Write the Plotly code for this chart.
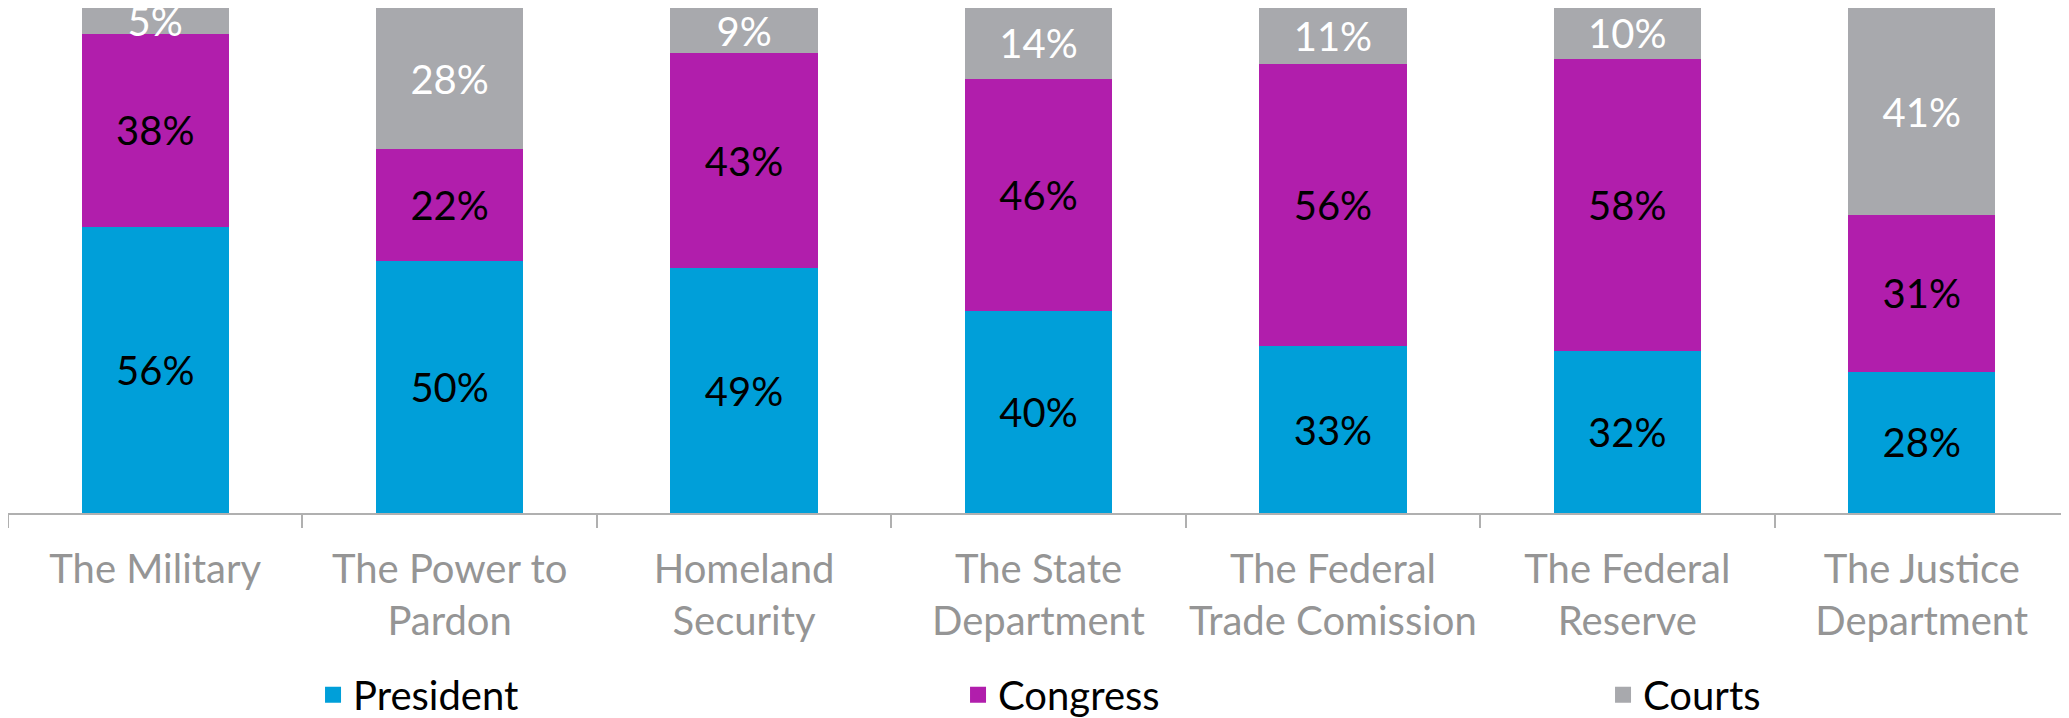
import plotly.graph_objects as go

categories = [
    "The Military",
    "The Power to<br>Pardon",
    "Homeland<br>Security",
    "The State<br>Department",
    "The Federal<br>Trade Comission",
    "The Federal<br>Reserve",
    "The Justice<br>Department",
]
president = [56, 50, 49, 40, 33, 32, 28]
congress = [38, 22, 43, 46, 56, 58, 31]
courts = [5, 28, 9, 14, 11, 10, 41]

series = [
    ("President", president, "#009FD9", "black"),
    ("Congress", congress, "#B11EAC", "black"),
    ("Courts", courts, "#A8A9AD", "white"),
]

FONT = "Lato, 'Open Sans', sans-serif"
FS = 40

fig = go.Figure()
for name, vals, color, tcolor in series:
    fig.add_trace(go.Bar(
        name=name,
        x=categories,
        y=vals,
        marker=dict(color=color, line=dict(width=0)),
        text=[f"{v}%" for v in vals],
        textposition="inside",
        insidetextanchor="middle",
        constraintext="none",
        textangle=0,
        insidetextfont=dict(color=tcolor, size=FS, family=FONT),
        hoverinfo="skip",
        showlegend=False,
        legendgroup=name,
    ))
# legend entries (square swatches)
for name, vals, color, tcolor in series:
    fig.add_trace(go.Scatter(
        name=name,
        x=[None],
        y=[None],
        mode="markers",
        marker=dict(symbol="square", size=16, color=color),
        showlegend=True,
        legendgroup=name,
        hoverinfo="skip",
    ))

fig.update_layout(
    width=2061,
    height=710,
    barmode="stack",
    barnorm="percent",
    bargap=0.5,
    paper_bgcolor="white",
    plot_bgcolor="white",
    margin=dict(l=0, r=0, t=0, b=205, autoexpand=False),
    font=dict(family=FONT, size=FS, color="black"),
    xaxis=dict(
        showline=True,
        linecolor="#B0B0B0",
        linewidth=2,
        ticks="outside",
        tickson="boundaries",
        ticklen=13,
        tickcolor="#B0B0B0",
        tickwidth=2,
        tickangle=0,
        ticklabelstandoff=20,
        automargin=False,
        tickfont=dict(color="#959595", size=FS, family=FONT),
        showgrid=False,
    ),
    yaxis=dict(visible=False, range=[0, 100], showgrid=False),
    legend=dict(
        orientation="h",
        x=0.148,
        xanchor="left",
        y=-0.36,
        yanchor="middle",
        entrywidth=600,
        entrywidthmode="pixels",
        itemsizing="trace",
        font=dict(size=FS, color="black", family=FONT),
        traceorder="normal",
    ),
)

fig.write_html("out.html")
